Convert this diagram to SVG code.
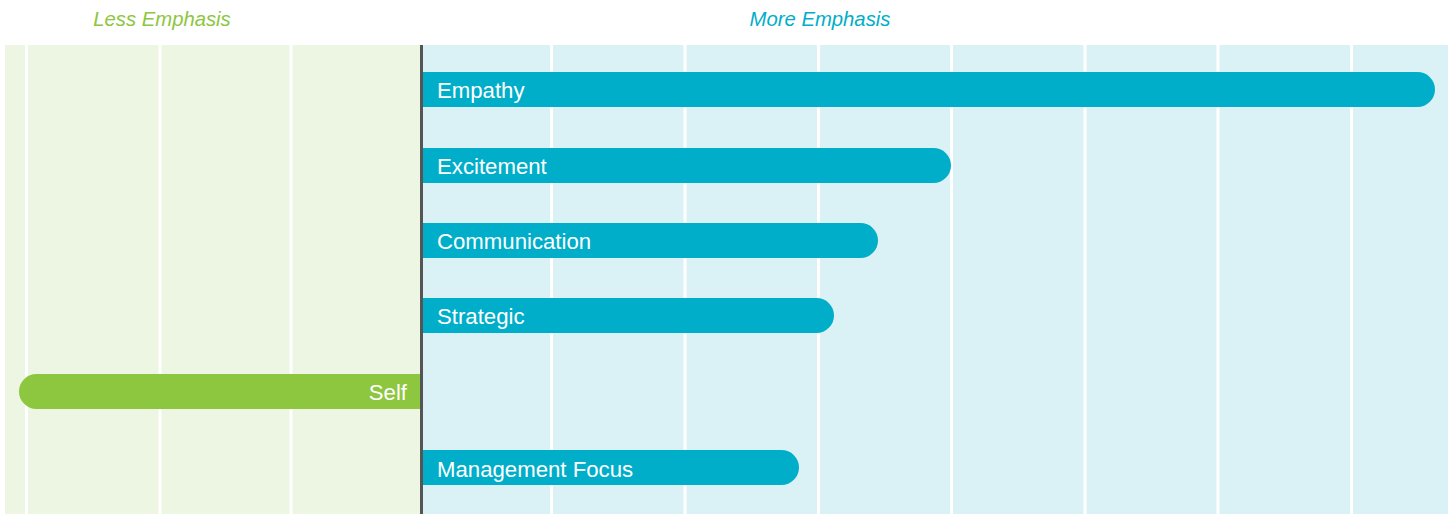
<svg xmlns="http://www.w3.org/2000/svg" width="1450" height="514" viewBox="0 0 1450 514">
<style>
.hdr{font-family:"Liberation Sans",Arial,sans-serif;font-style:italic;font-size:20.3px;text-anchor:middle}
.lbl{font-family:"Liberation Sans",Arial,sans-serif;font-size:22.2px;fill:#ffffff}
.grid{stroke:#ffffff;stroke-width:3}
.bb{fill:#00AEC9}
.gb{fill:#8DC63F}
</style>
<rect x="0" y="0" width="1450" height="514" fill="#ffffff"/>
<g id="background">
<rect x="5" y="45" width="416" height="469" fill="#EDF5E3"/>
<rect x="421" y="45" width="1027" height="469" fill="#DAF2F6"/>
<g class="grid">
<line x1="26.5" y1="45" x2="26.5" y2="514"/>
<line x1="160" y1="45" x2="160" y2="514"/>
<line x1="291" y1="45" x2="291" y2="514"/>
<line x1="551.5" y1="45" x2="551.5" y2="514"/>
<line x1="685" y1="45" x2="685" y2="514"/>
<line x1="818.5" y1="45" x2="818.5" y2="514"/>
<line x1="951.5" y1="45" x2="951.5" y2="514"/>
<line x1="1085" y1="45" x2="1085" y2="514"/>
<line x1="1218" y1="45" x2="1218" y2="514"/>
<line x1="1351.5" y1="45" x2="1351.5" y2="514"/>
</g>
</g>
<text class="hdr" x="162" y="26" fill="#8DC63F">Less Emphasis</text>
<text class="hdr" x="820" y="26" fill="#00AEC9">More Emphasis</text>
<g id="bar-empathy">
<path class="bb" d="M421 72 H1417.5 A17.5 17.5 0 0 1 1417.5 107 H421 Z"/>
<text class="lbl" x="437" y="97.5">Empathy</text>
</g>
<g id="bar-excitement">
<path class="bb" d="M421 148 H933.5 A17.5 17.5 0 0 1 933.5 183 H421 Z"/>
<text class="lbl" x="437" y="173.5">Excitement</text>
</g>
<g id="bar-communication">
<path class="bb" d="M421 223 H860.5 A17.5 17.5 0 0 1 860.5 258 H421 Z"/>
<text class="lbl" x="437" y="248.5">Communication</text>
</g>
<g id="bar-strategic">
<path class="bb" d="M421 298 H816.5 A17.5 17.5 0 0 1 816.5 333 H421 Z"/>
<text class="lbl" x="437" y="324">Strategic</text>
</g>
<g id="bar-self">
<path class="gb" d="M421 374 H36.5 A17.5 17.5 0 0 0 36.5 409 H421 Z"/>
<text class="lbl" x="407" y="400" text-anchor="end">Self</text>
</g>
<g id="bar-management">
<path class="bb" d="M421 450 H781.5 A17.5 17.5 0 0 1 781.5 485 H421 Z"/>
<text class="lbl" x="437" y="477">Management Focus</text>
</g>
<g id="connectors">
<line x1="421.5" y1="45" x2="421.5" y2="514" stroke="#555555" stroke-width="3"/>
</g>
</svg>
